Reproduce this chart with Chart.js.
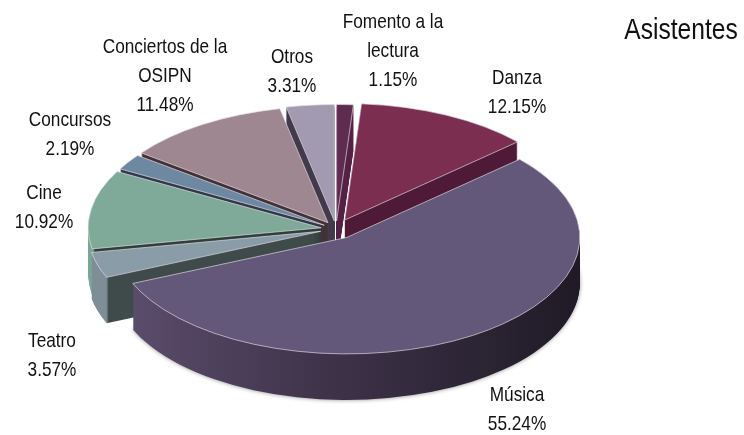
<!DOCTYPE html>
<html lang="es">
<head>
<meta charset="UTF-8">
<title>Asistentes</title>
<script src="https://cdn.jsdelivr.net/npm/chart.js@4/dist/chart.umd.min.js"></script>
<style>
  html, body { margin: 0; padding: 0; background: #fff; }
  canvas { display: block; }
</style>
</head>
<body>
<canvas id="myChart" width="744" height="435"></canvas>
<script>
const title = 'Asistentes'
const categories = ['Fomento a la lectura', 'Danza', 'Música', 'Teatro', 'Cine', 'Concursos', 'Conciertos de la OSIPN', 'Otros']
const values = [1.15, 12.15, 55.24, 3.57, 10.92, 2.19, 11.48, 3.31]

// how the names break over lines
const nameLines = [['Fomento a la', 'lectura'], ['Danza'], ['Música'], ['Teatro'], ['Cine'], ['Concursos'], ['Conciertos de la', 'OSIPN'], ['Otros']]

const topColors = ['#5f2c50', '#7c2e50', '#63577a', '#8b9ca9', '#7fa999', '#6f88a2', '#9f8791', '#a29ab1']

// side faces, [fraction of pie width, colour]
const sideColors = [
  [[0, '#552045'], [1, '#552045']],
  [[0, '#4e1a37'], [1, '#4e1a37']],
  [[0, '#5d4e6e'], [0.45, '#3f334a'], [0.8, '#2a2433'], [1, '#1f1a26']],
  [[0, '#7f8d97'], [0.04, '#7f8d97'], [0.045, '#3f4a4b'], [1, '#3f4a4b']],
  [[0, '#7ba594'], [0.01, '#7ba594'], [0.015, '#2e4038'], [1, '#2e4038']],
  [[0, '#2f3a48'], [1, '#2f3a48']],
  [[0, '#423238'], [1, '#423238']],
  [[0, '#423a4a'], [1, '#423a4a']]
]

const explode = [16, 20, 20, 16, 15, 14, 15, 16]
const drawOrder = [7, 0, 6, 1, 5, 4, 3, 2]   // back to front
const pieCenter = { x: 336, y: 229 }
const squash = 0.5
const depth = 46

const labelPos = [[393, 22], [517, 78], [517, 395], [52, 341], [44, 193], [70, 120], [165, 47], [292, 57]]
const lineHeight = 29
const narrow = 0.82  // the original face is condensed, none is installed

function drawSlice(ctx, el, i, fill, noBorder, dy) {
  const mid = (el.startAngle + el.endAngle) / 2
  const saved = el.options
  if (noBorder) el.options = { ...saved, backgroundColor: fill, borderWidth: 0 }
  ctx.save()
  ctx.translate(pieCenter.x, pieCenter.y + dy)
  ctx.scale(1, squash)
  ctx.translate(-el.x, -el.y)
  ctx.translate(Math.cos(mid) * explode[i], Math.sin(mid) * explode[i])
  el.draw(ctx)
  ctx.restore()
  el.options = saved
}

function narrowText(ctx, text, x, y) {
  ctx.save()
  ctx.translate(x, y)
  ctx.scale(narrow, 1)
  ctx.fillText(text, 0, 0)
  ctx.restore()
}

const pie3d = {
  id: 'pie3d',
  beforeDatasetDraw(chart, args) {
    const ctx = chart.ctx
    const arcs = chart.getDatasetMeta(args.index).data
    drawOrder.forEach(i => {
      const el = arcs[i]
      const grad = ctx.createLinearGradient(el.x - el.outerRadius, 0, el.x + el.outerRadius, 0)
      sideColors[i].forEach(s => grad.addColorStop(s[0], s[1]))
      for (let k = depth; k > 0; k--) {
        ctx.save()
        if (k == depth && i == 2) {
          ctx.shadowColor = 'rgba(0,0,0,0.45)'
          ctx.shadowBlur = 4
        }
        drawSlice(ctx, el, i, grad, true, k)
        ctx.restore()
      }
      drawSlice(ctx, el, i, null, false, 0)
    })
    return false  // slices are already drawn
  },
  afterDraw(chart) {
    const ctx = chart.ctx
    ctx.save()
    ctx.fillStyle = '#111'
    ctx.textAlign = 'center'
    ctx.textBaseline = 'middle'
    ctx.font = '21px "Liberation Sans", sans-serif'
    categories.forEach((c, i) => {
      const lines = nameLines[i].concat(values[i].toFixed(2) + '%')
      lines.forEach((t, n) => narrowText(ctx, t, labelPos[i][0], labelPos[i][1] + n * lineHeight))
    })
    ctx.font = '30px "Liberation Sans", sans-serif'
    narrowText(ctx, title, 681, 31)
    ctx.restore()
  }
}

new Chart(document.getElementById('myChart').getContext('2d'), {
  type: 'pie',
  data: {
    labels: categories,
    datasets: [{
      data: values,
      backgroundColor: topColors,
      borderColor: 'rgba(225,220,230,0.9)',
      borderWidth: 1,
      clip: false
    }]
  },
  options: {
    responsive: false,
    animation: false,
    radius: 233,
    rotation: 0,
    plugins: { legend: { display: false }, tooltip: { enabled: false } }
  },
  plugins: [pie3d]
})
</script>
</body>
</html>
